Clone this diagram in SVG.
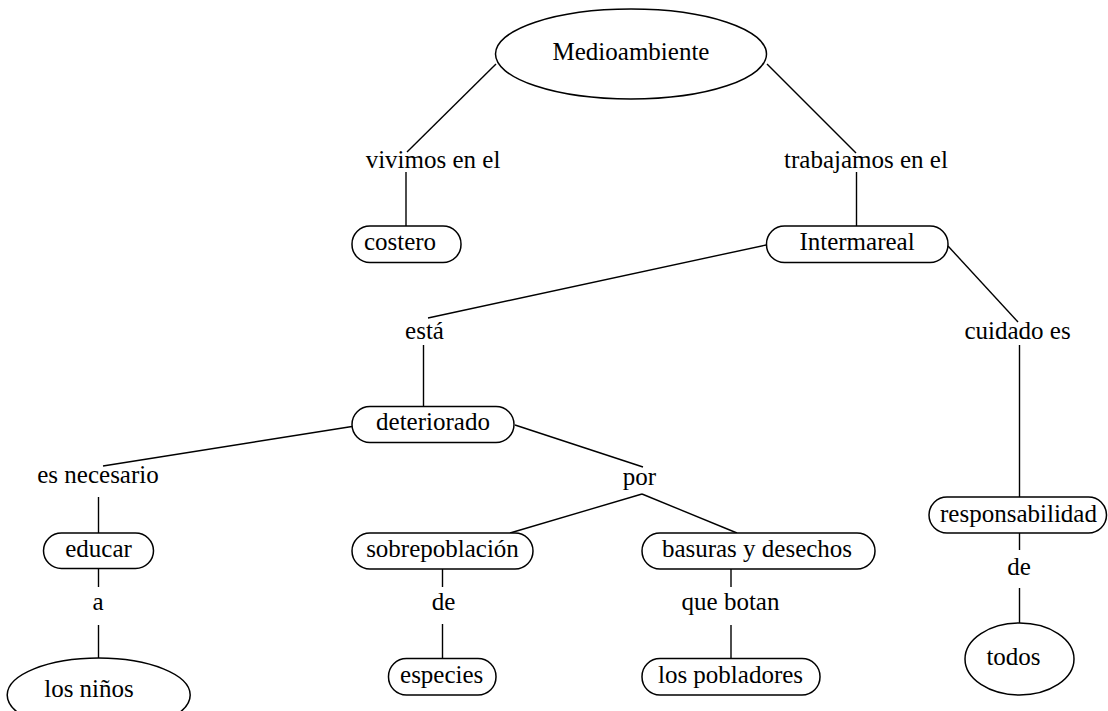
<svg xmlns="http://www.w3.org/2000/svg" width="1108" height="711" viewBox="0 0 1108 711" font-family="Liberation Serif, Times New Roman, serif">
<style>
.n{fill:#fff;stroke:#000;stroke-width:1.5}
text{font-family:'Liberation Serif','Times New Roman',serif;font-size:25px;fill:#000;text-anchor:middle}
.c line{stroke:#000;stroke-width:1.4}
</style>
<rect width="1108" height="711" fill="#fff"/>
<g class="c" id="connectors">
<line x1="496" y1="64" x2="407" y2="152"/>
<line x1="406" y1="172" x2="406" y2="226"/>
<line x1="767" y1="64" x2="856" y2="153"/>
<line x1="856.5" y1="172" x2="856.5" y2="226"/>
<line x1="766" y1="245" x2="428" y2="318"/>
<line x1="423.5" y1="345" x2="423.5" y2="407"/>
<line x1="948" y1="246" x2="1018" y2="322"/>
<line x1="1019.5" y1="345" x2="1019.5" y2="497"/>
<line x1="1019.5" y1="533" x2="1019.5" y2="550"/>
<line x1="1019.5" y1="588" x2="1019.5" y2="623"/>
<line x1="352" y1="426.5" x2="103" y2="466"/>
<line x1="98.5" y1="497" x2="98.5" y2="533"/>
<line x1="98.5" y1="568" x2="98.5" y2="587"/>
<line x1="98.5" y1="625" x2="98.5" y2="658"/>
<line x1="515" y1="425" x2="643" y2="467"/>
<line x1="642" y1="494" x2="510" y2="533"/>
<line x1="642" y1="494" x2="737" y2="533"/>
<line x1="442.5" y1="569" x2="442.5" y2="587"/>
<line x1="442.5" y1="624" x2="442.5" y2="658"/>
<line x1="731" y1="569" x2="731" y2="587"/>
<line x1="731" y1="625" x2="731" y2="658"/>
</g>
<g id="medioambiente"><ellipse class="n" cx="631" cy="54" rx="135.5" ry="45"/><text x="631" y="60">Medioambiente</text></g>
<g id="vivimos"><text x="433" y="168">vivimos en el</text></g>
<g id="costero"><rect class="n" x="352" y="226" width="109" height="36.5" rx="18"/><text x="400" y="250">costero</text></g>
<g id="trabajamos"><text x="866" y="168">trabajamos en el</text></g>
<g id="intermareal"><rect class="n" x="766.5" y="226" width="181.5" height="36.5" rx="18"/><text x="857" y="249.5">Intermareal</text></g>
<g id="esta"><text x="424.5" y="339">está</text></g>
<g id="cuidado"><text x="1017.5" y="339">cuidado es</text></g>
<g id="deteriorado"><rect class="n" x="352" y="406.5" width="162" height="36" rx="18"/><text x="433" y="430">deteriorado</text></g>
<g id="esnecesario"><text x="98" y="482.5">es necesario</text></g>
<g id="por"><text x="639.5" y="485">por</text></g>
<g id="educar"><rect class="n" x="43.5" y="533" width="110" height="35.5" rx="18"/><text x="98.5" y="556.5">educar</text></g>
<g id="sobrepoblacion"><rect class="n" x="352" y="533" width="181" height="36" rx="18"/><text x="442.5" y="557">sobrepoblación</text></g>
<g id="basuras"><rect class="n" x="642" y="533" width="233" height="36" rx="18"/><text x="757" y="557">basuras y desechos</text></g>
<g id="responsabilidad"><rect class="n" x="929" y="497" width="177.5" height="36" rx="18"/><text x="1018.5" y="521.5">responsabilidad</text></g>
<g id="a"><text x="98" y="610">a</text></g>
<g id="de1"><text x="443.5" y="610">de</text></g>
<g id="quebotan"><text x="730.5" y="610">que botan</text></g>
<g id="de2"><text x="1019" y="575">de</text></g>
<g id="losninos"><ellipse class="n" cx="98.7" cy="695" rx="91.5" ry="37"/><text x="89" y="697">los niños</text></g>
<g id="especies"><rect class="n" x="388.5" y="658.5" width="107.5" height="36.5" rx="18"/><text x="441.7" y="683">especies</text></g>
<g id="pobladores"><rect class="n" x="642" y="658.5" width="178" height="36.5" rx="18"/><text x="730.5" y="683">los pobladores</text></g>
<g id="todos"><ellipse class="n" cx="1019.5" cy="659" rx="54.5" ry="36"/><text x="1013.5" y="665">todos</text></g>
</svg>
